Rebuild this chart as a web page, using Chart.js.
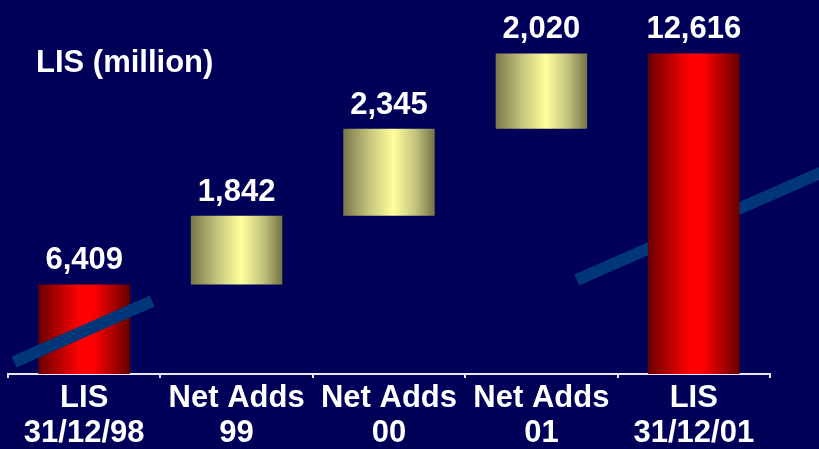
<!DOCTYPE html>
<html>
<head>
<meta charset="utf-8">
<script src="https://cdn.jsdelivr.net/npm/chart.js@4/dist/chart.umd.min.js"></script>
<style>
  html, body { margin: 0; padding: 0; background: #000058; }
  canvas { display: block; }
</style>
</head>
<body>
<canvas id="lisChart" width="819" height="449"></canvas>
<script>
// LIS totals and yearly net adds (million)
const categories = [['LIS', '31/12/98'], ['Net Adds', '99'], ['Net Adds', '00'], ['Net Adds', '01'], ['LIS', '31/12/01']];
const values = [6409, 1842, 2345, 2020, 12616];
const isTotal = [true, false, false, false, true];
const yMin = 4000;
const yMax = 14000;

const font = 'bold 31px "Liberation Sans", Arial, sans-serif';

// waterfall: totals start at the axis, net adds float on the running sum
const bars = [];
let running = 0;
values.forEach((v, i) => {
  if (isTotal[i]) {
    bars.push([yMin, v]);
    running = v;
  } else {
    bars.push([running, running + v]);
    running += v;
  }
});

function barFill(c) {
  const chart = c.chart;
  const xs = chart.scales.x;
  if (!xs || !chart.chartArea) return isTotal[c.dataIndex] ? '#ff0000' : '#e8e88a';
  const w = xs.width / categories.length * 0.6;
  const cx = xs.getPixelForValue(c.dataIndex);
  const g = chart.ctx.createLinearGradient(cx - w / 2, 0, cx + w / 2, 0);
  if (isTotal[c.dataIndex]) {
    g.addColorStop(0, '#6a0000');
    g.addColorStop(0.45, '#ff0000');
    g.addColorStop(0.6, '#ff0000');
    g.addColorStop(1, '#680000');
  } else {
    g.addColorStop(0, '#78784a');
    g.addColorStop(0.3, '#c8c880');
    g.addColorStop(0.55, '#ffff9c');
    g.addColorStop(0.8, '#c0c07c');
    g.addColorStop(1, '#737344');
  }
  return g;
}

function drawBand(ctx, x1, y1, x2, y2) {
  ctx.save();
  ctx.strokeStyle = '#00377a';
  ctx.lineWidth = 12;
  ctx.lineCap = 'butt';
  ctx.beginPath();
  ctx.moveTo(x1, y1);
  ctx.lineTo(x2, y2);
  ctx.stroke();
  ctx.restore();
}

const decorations = {
  id: 'decorations',
  beforeDraw(chart) {
    const { ctx, width, height } = chart;
    ctx.save();
    ctx.fillStyle = '#000058';
    ctx.fillRect(0, 0, width, height);
    ctx.restore();
  },
  beforeDatasetsDraw(chart) {
    // axis-break band behind the closing total
    const xs = chart.scales.x;
    const b = chart.chartArea.bottom;
    const x4 = xs.getPixelForValue(4);
    drawBand(chart.ctx, x4 - 117, b - 94, x4 + 140, b - 207);
  },
  afterDatasetsDraw(chart) {
    const { ctx } = chart;
    const xs = chart.scales.x;
    const b = chart.chartArea.bottom;
    // axis-break band across the opening total
    const x0 = xs.getPixelForValue(0);
    drawBand(ctx, x0 - 70, b - 12, x0 + 68, b - 73);

    // value labels
    const meta = chart.getDatasetMeta(0);
    ctx.save();
    ctx.font = font;
    ctx.fillStyle = '#ffffff';
    ctx.textAlign = 'center';
    ctx.textBaseline = 'alphabetic';
    meta.data.forEach((bar, i) => {
      ctx.fillText(values[i].toLocaleString('en-US'), bar.x, bar.y - 15);
    });
    // unit caption
    ctx.textAlign = 'left';
    ctx.fillText('LIS (million)', 36, 72);
    ctx.restore();
  }
};

new Chart(document.getElementById('lisChart'), {
  type: 'bar',
  data: {
    labels: categories,
    datasets: [{
      data: bars,
      backgroundColor: barFill,
      borderWidth: 0,
      borderSkipped: false,
      barPercentage: 0.6,
      categoryPercentage: 1
    }]
  },
  options: {
    responsive: false,
    animation: false,
    layout: { padding: { left: 8, right: 49, top: 2, bottom: 0 } },
    plugins: {
      legend: { display: false },
      tooltip: { enabled: false }
    },
    scales: {
      x: {
        afterFit(scale) { scale.height = 75; },
        border: { display: true, color: '#e6e6f4', width: 2 },
        grid: {
          offset: true,
          drawOnChartArea: false,
          drawTicks: true,
          tickLength: 4,
          color: '#e6e6f4',
          lineWidth: 2
        },
        ticks: {
          color: '#ffffff',
          padding: 3,
          maxRotation: 0,
          autoSkip: false,
          font: { family: '"Liberation Sans", Arial, sans-serif', size: 31, weight: 'bold', lineHeight: 1.13 }
        }
      },
      y: {
        display: false,
        min: yMin,
        max: yMax
      }
    }
  },
  plugins: [decorations]
});
</script>
</body>
</html>
